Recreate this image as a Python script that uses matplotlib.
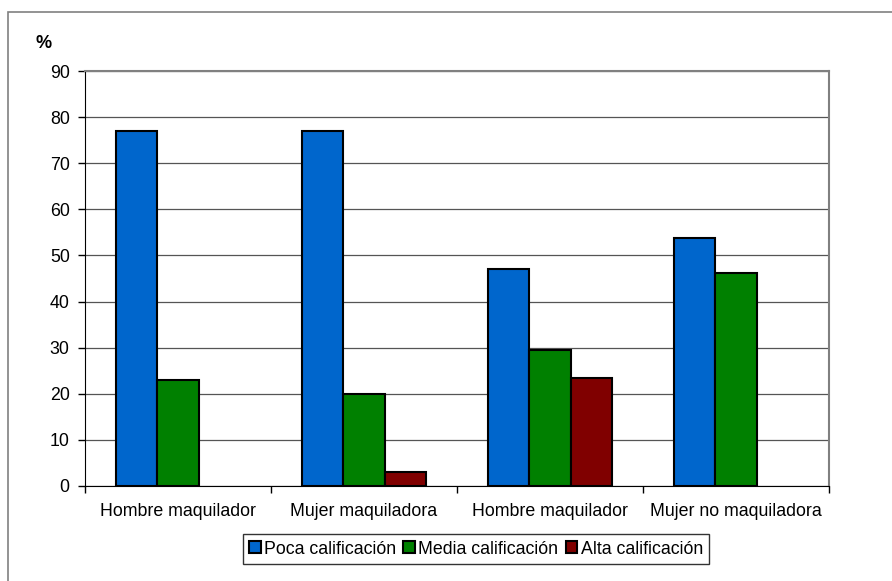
import matplotlib.pyplot as plt
import numpy as np
from matplotlib.patches import Rectangle, Patch

categories = ["Hombre maquilador", "Mujer maquiladora", "Hombre maquilador", "Mujer no maquiladora"]
series = ["Poca calificación", "Media calificación", "Alta calificación"]
poca = [77.0, 77.0, 47.1, 53.8]
media = [23.0, 20.0, 29.4, 46.2]
alta = [0.0, 3.0, 23.5, 0.0]
colors = ["#0066CC", "#008000", "#800000"]

plt.rcParams["font.family"] = ["Liberation Sans", "DejaVu Sans"]

W, H = 892, 581
fig = plt.figure(figsize=(W / 100, H / 100), dpi=100)
ax = fig.add_axes([85 / W, 1 - 486 / H, (829 - 85) / W, (486 - 71) / H])

# outer chart border
fig.add_artist(Rectangle((8 / W, -0.1), 1.0, 1 - 12 / H + 0.1, transform=fig.transFigure,
                         fill=False, edgecolor="#808080", linewidth=1.2))

x = np.arange(len(categories))
w = 1 / 4.5
for i, vals in enumerate([poca, media, alta]):
    lws = [1.5 if v > 0 else 0 for v in vals]
    ax.bar(x + (i - 1) * w, vals, width=w, color=colors[i], edgecolor="black",
           linewidth=lws, zorder=3)

ax.set_xlim(-0.5, len(categories) - 0.5)
ax.set_ylim(0, 90)
ax.set_yticks(np.arange(0, 91, 10))
ax.yaxis.grid(True, color="#555555", linewidth=0.9, zorder=0)
ax.set_axisbelow(True)

ax.set_xticks(x)
ax.set_xticklabels(categories, fontsize=12.8)
ax.set_xticks(np.arange(-0.5, len(categories)), minor=True)
ax.tick_params(axis="x", which="major", length=0, pad=12)
ax.tick_params(axis="x", which="minor", length=5, width=1, direction="out")
ax.tick_params(axis="y", length=5, width=1, labelsize=12.8, pad=6)

for s in ["top", "right"]:
    ax.spines[s].set_color("#808080")
    ax.spines[s].set_linewidth(1.5)
ax.spines["left"].set_color("black")
ax.spines["bottom"].set_color("black")

fig.text(35 / W, 1 - 44 / H, "%", fontsize=13, fontweight="bold", va="center", ha="left")

handles = [Patch(facecolor=c, edgecolor="black", linewidth=1.5, label=n)
           for c, n in zip(colors, series)]
leg = fig.legend(handles=handles, loc="center", bbox_to_anchor=(476 / W, 1 - 549 / H), ncol=3,
                 fontsize=12.8, frameon=True, fancybox=False, edgecolor="black",
                 handlelength=0.65, handleheight=0.65, handletextpad=0.2,
                 columnspacing=0.4, borderpad=0.35)
leg.get_frame().set_linewidth(1)

plt.savefig("out.png", dpi=100)
